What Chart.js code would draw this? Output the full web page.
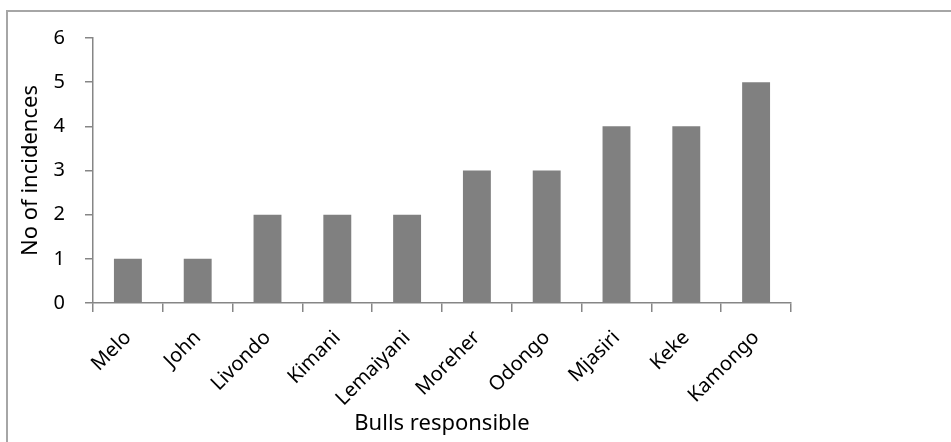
<!DOCTYPE html>
<html>
<head>
<meta charset="utf-8">
<script src="https://cdn.jsdelivr.net/npm/chart.js@4"></script>
<style>
  html, body { margin: 0; padding: 0; background: #fff; }
  #wrap { position: relative; width: 951px; height: 442px; }
</style>
</head>
<body>
<div id="wrap"><canvas id="bullsChart"></canvas></div>
<script>
// Dados
const bulls = ['Melo', 'John', 'Livondo', 'Kimani', 'Lemaiyani', 'Moreher', 'Odongo', 'Mjasiri', 'Keke', 'Kamongo'];
const incidences = [1, 1, 2, 2, 2, 3, 3, 4, 4, 5];
const yTicks = [0, 1, 2, 3, 4, 5, 6];

const FONT = 'Noto Sans';
const AXIS_COLOR = '#868686';

// Moldura externa (só topo e esquerda visíveis)
const framePlugin = {
    id: 'frame',
    beforeDraw(chart) {
        const ctx = chart.ctx;
        ctx.save();
        ctx.strokeStyle = '#a6a6a6';
        ctx.lineWidth = 2;
        ctx.beginPath();
        ctx.moveTo(7, 442);
        ctx.lineTo(7, 11);
        ctx.lineTo(951, 11);
        ctx.stroke();
        ctx.restore();
    }
};

const ctx = document.getElementById('bullsChart').getContext('2d');
new Chart(ctx, {
    type: 'bar',
    data: {
        labels: bulls,
        datasets: [{
            data: incidences,
            backgroundColor: '#808080',
            barPercentage: 0.4,
            categoryPercentage: 1.0
        }]
    },
    options: {
        responsive: true,
        maintainAspectRatio: false,
        animation: false,
        layout: { padding: { left: 0, right: 160, top: 38, bottom: 0 } },
        plugins: {
            legend: { display: false },
            tooltip: { enabled: false }
        },
        scales: {
            x: {
                offset: true,
                grid: {
                    offset: true,
                    drawOnChartArea: false,
                    drawTicks: true,
                    tickLength: 9,
                    color: AXIS_COLOR,
                    lineWidth: 1.5
                },
                border: { color: AXIS_COLOR, width: 1.5 },
                ticks: {
                    minRotation: 45,
                    maxRotation: 45,
                    color: '#000',
                    padding: 14,
                    font: { family: FONT, size: 20 }
                },
                title: {
                    display: true,
                    text: 'Bulls responsible',
                    color: '#000',
                    padding: { top: 0, bottom: 5 },
                    font: { family: FONT, size: 22 }
                },
                afterFit(scale) { scale.height = 139; }
            },
            y: {
                min: 0,
                max: 6,
                afterBuildTicks(scale) {
                    scale.ticks = yTicks.map(v => ({ value: v }));
                },
                grid: {
                    drawOnChartArea: false,
                    drawTicks: true,
                    tickLength: 8,
                    color: AXIS_COLOR,
                    lineWidth: 1.5
                },
                border: { color: AXIS_COLOR, width: 1.5 },
                ticks: {
                    color: '#000',
                    padding: 20,
                    font: { family: FONT, size: 20 }
                },
                title: {
                    display: true,
                    text: 'No of incidences',
                    color: '#000',
                    padding: { top: 18, bottom: 0 },
                    font: { family: FONT, size: 22 }
                },
                afterFit(scale) { scale.width = 93; }
            }
        }
    },
    plugins: [framePlugin]
});
</script>
</body>
</html>
